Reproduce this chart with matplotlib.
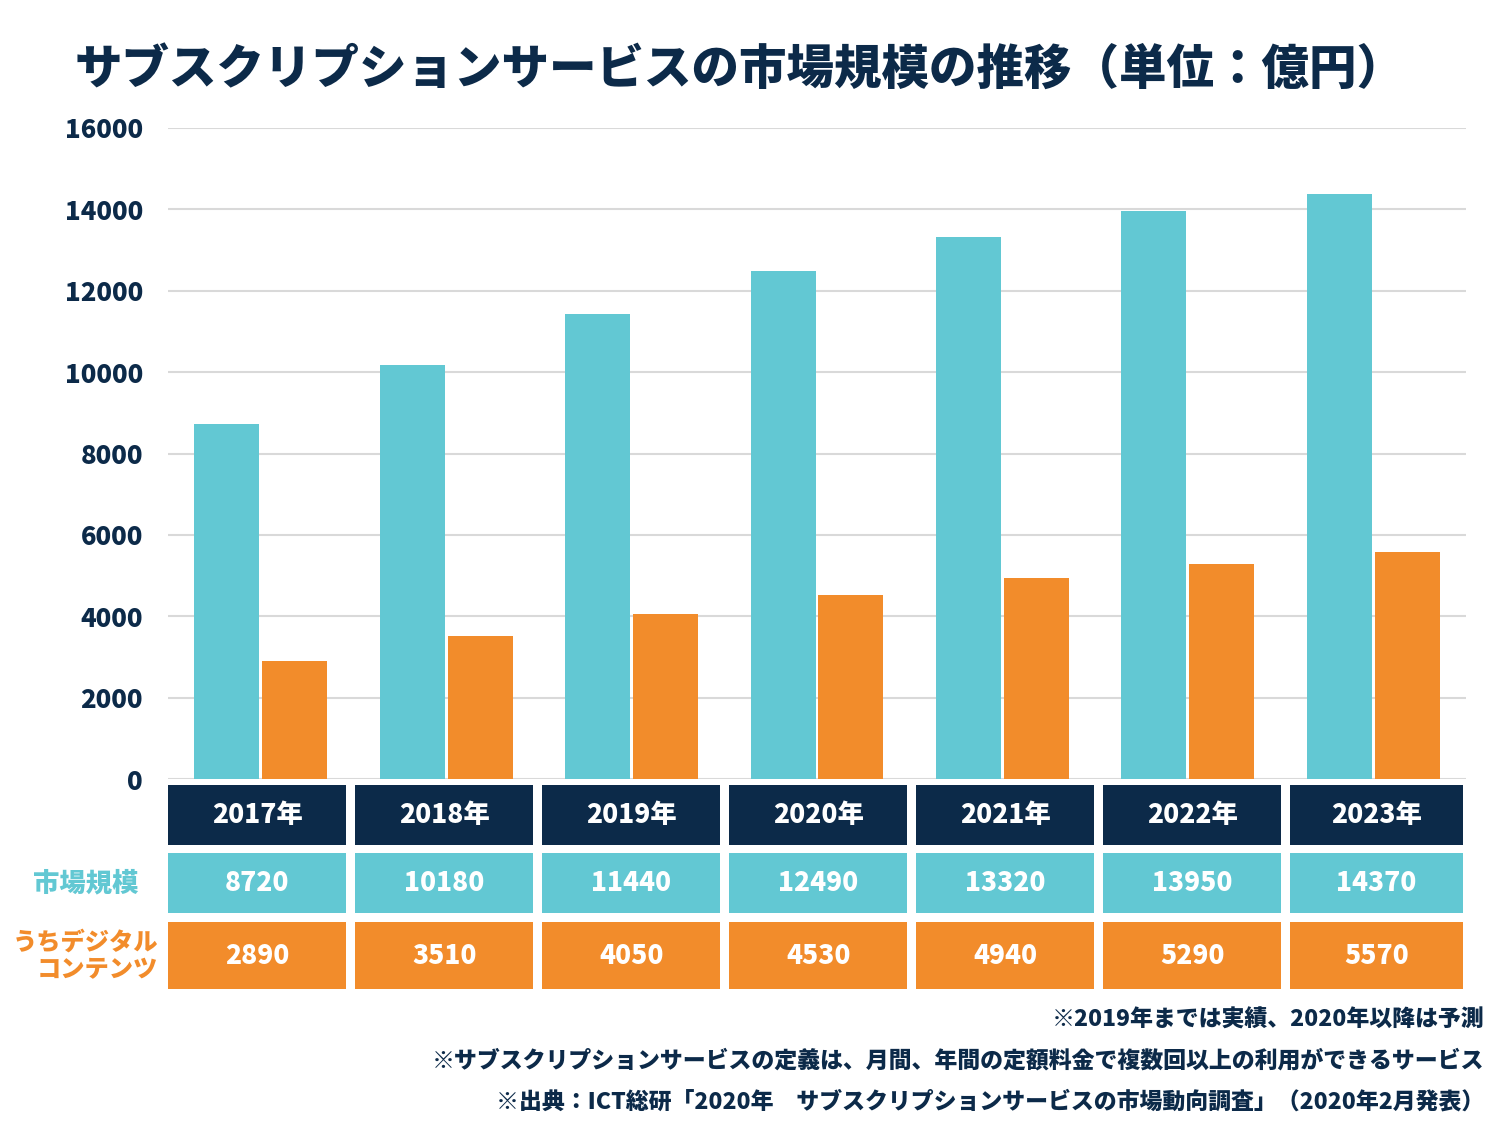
import matplotlib
matplotlib.use('Agg')
import matplotlib.pyplot as plt
from matplotlib.patches import Rectangle
from matplotlib.transforms import blended_transform_factory

plt.rcParams['font.family'] = ['Noto Sans CJK JP', 'DejaVu Sans']
plt.rcParams['font.weight'] = 'bold'

NAVY = '#0c2a49'
CYAN = '#62c8d3'
ORANGE = '#f28c2b'

years = ['2017年', '2018年', '2019年', '2020年', '2021年', '2022年', '2023年']
market = [8720, 10180, 11440, 12490, 13320, 13950, 14370]
digital = [2890, 3510, 4050, 4530, 4940, 5290, 5570]
yticks = [0, 2000, 4000, 6000, 8000, 10000, 12000, 14000, 16000]
notes = [
    '※2019年までは実績、2020年以降は予測',
    '※サブスクリプションサービスの定義は、月間、年間の定額料金で複数回以上の利用ができるサービス',
    '※出典：ICT総研「2020年　サブスクリプションサービスの市場動向調査」（2020年2月発表）',
]

fig = plt.figure(figsize=(15, 11.25), dpi=100)
ax = fig.add_axes([168 / 1500, 1 - 779 / 1125, (1466 - 168) / 1500, (779 - 128) / 1125])

x = list(range(len(years)))
w = 0.35
ax.bar([i - 0.183 for i in x], market, width=w, color=CYAN, zorder=3)
ax.bar([i + 0.183 for i in x], digital, width=w, color=ORANGE, zorder=3)

ax.set_xlim(-0.5, 6.5)
ax.set_ylim(0, 16000)
ax.set_yticks(yticks)
ax.set_yticklabels([str(t) for t in yticks], fontsize=18.5, color=NAVY, fontweight='heavy')
ax.tick_params(axis='y', length=0, pad=18)
ax.set_xticks([])
ax.grid(axis='y', color='#d9d9d9', linewidth=1.5, zorder=0)
for s in ax.spines.values():
    s.set_visible(False)

# table under the chart (cells have a slightly wider pitch than the bars)
tr = blended_transform_factory(ax.transData, fig.transFigure)
rows = [
    (785, 845, NAVY, years),
    (853, 913, CYAN, [str(v) for v in market]),
    (922, 989, ORANGE, [str(v) for v in digital]),
]
cw = 0.96
for top, bot, col, labels in rows:
    y0 = 1 - bot / 1125
    h = (bot - top) / 1125
    for i, lab in enumerate(labels):
        cx = -0.019 + 1.0086 * i
        cwi = cw if i < len(labels) - 1 else 0.93
        if i == len(labels) - 1:
            cx -= 0.015
        ax.add_patch(Rectangle((cx - cwi / 2, y0), cwi, h, transform=tr,
                               facecolor=col, edgecolor='none', clip_on=False))
        ax.text(cx, y0 + h / 2, lab, transform=tr, ha='center', va='center',
                color='white', fontsize=19, fontweight='heavy')

fig.text(138 / 1500, 1 - 883 / 1125, '市場規模', ha='right', va='center',
         color=CYAN, fontsize=19, fontweight='heavy')
fig.text(158 / 1500, 1 - 956 / 1125, 'うちデジタル\nコンテンツ', ha='right', va='center',
         color=ORANGE, fontsize=17.5, fontweight='heavy', linespacing=1.15, multialignment='right')

fig.text(75 / 1500, 1 - 70 / 1125, 'サブスクリプションサービスの市場規模の推移（単位：億円）',
         ha='left', va='center', color=NAVY, fontsize=34.2, fontweight='heavy')

for k, note in enumerate(notes):
    fig.text(1484 / 1500, 1 - (1020 + 41 * k) / 1125, note, ha='right', va='center',
             color=NAVY, fontsize=16.5, fontweight='heavy')

fig.savefig('out.png', dpi=100, facecolor='white')
